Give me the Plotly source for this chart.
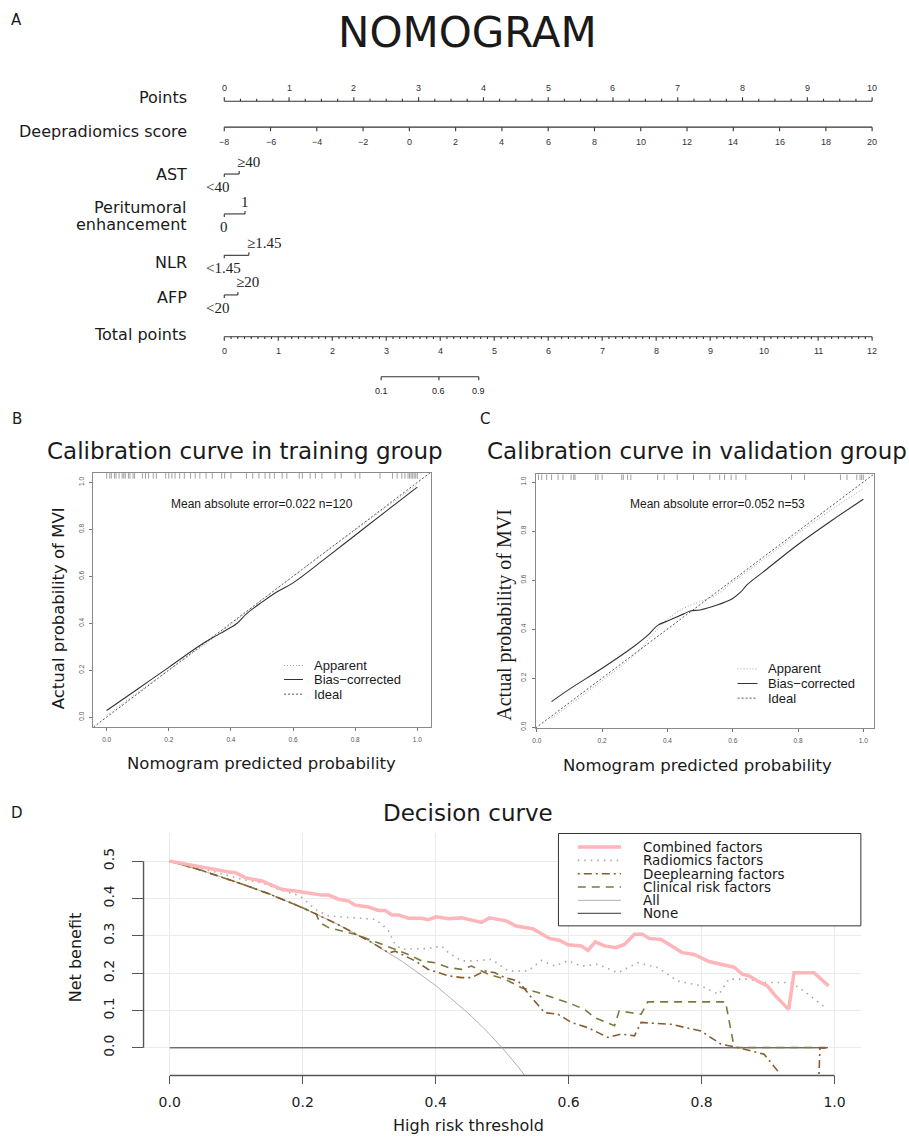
import math
import plotly.graph_objects as go

W, H = 909, 1137

# ---------------- Panel A: nomogram data ----------------
points_ticks = [0, 1, 2, 3, 4, 5, 6, 7, 8, 9, 10]
points_minor_step = 0.25
score_ticks = [-8, -6, -4, -2, 0, 2, 4, 6, 8, 10, 12, 14, 16, 18, 20]
total_ticks = [0, 1, 2, 3, 4, 5, 6, 7, 8, 9, 10, 11, 12]
total_minor_step = 0.125
prob_ticks = [0.1, 0.6, 0.9]
logit_slope = 2.43   # log-odds per total point
logit_mid = 3.81     # total points where probability = 0.5
cat_names = ["AST", "Peritumoral enhancement", "NLR", "AFP"]
cat_levels = [["<40", "≥40"], ["0", "1"], ["<1.45", "≥1.45"], ["<20", "≥20"]]
cat_points = [[0, 0.23], [0, 0.32], [0, 0.38], [0, 0.21]]

# ---------------- Panel B: calibration (training) ----------------
train_pred_bias = [0.0, 0.1, 0.2, 0.3, 0.35, 0.38, 0.42, 0.45, 0.5, 0.55, 0.6, 0.7, 0.8, 0.9, 1.0]
train_act_bias = [0.028, 0.12, 0.212, 0.305, 0.345, 0.367, 0.40, 0.44, 0.49, 0.535, 0.572, 0.672, 0.775, 0.878, 0.98]
train_pred_app = [0.0, 0.1, 0.2, 0.3, 0.4, 0.5, 0.6, 0.7, 0.8, 0.9, 1.0]
train_act_app = [0.008, 0.105, 0.2, 0.295, 0.395, 0.5, 0.6, 0.7, 0.797, 0.895, 0.99]
train_rug = [0.0, 0.01, 0.015, 0.025, 0.03, 0.04, 0.05, 0.055, 0.06, 0.07, 0.075, 0.085, 0.09,
             0.115, 0.125, 0.135, 0.15, 0.16, 0.19, 0.2, 0.21, 0.22, 0.235, 0.25, 0.27, 0.285,
             0.3, 0.32, 0.34, 0.37, 0.38, 0.4, 0.45, 0.47, 0.49, 0.51, 0.525, 0.54, 0.565, 0.58,
             0.62, 0.63, 0.655, 0.672, 0.693, 0.735, 0.755, 0.8, 0.815, 0.88, 0.92, 0.935, 0.95,
             0.96, 0.97, 0.975, 0.98, 0.985, 0.99, 0.995, 1.0]
train_mae_text = "Mean absolute error=0.022 n=120"

# ---------------- Panel C: calibration (validation) ----------------
val_pred_bias = [0.045, 0.1, 0.2, 0.3, 0.34, 0.37, 0.4, 0.45, 0.47, 0.5, 0.55, 0.6, 0.625, 0.645, 0.7, 0.8, 0.9, 1.0]
val_act_bias = [0.104, 0.155, 0.24, 0.332, 0.375, 0.415, 0.433, 0.462, 0.474, 0.478, 0.497, 0.525, 0.552, 0.582, 0.64, 0.745, 0.84, 0.93]
val_pred_app = [0.045, 0.1, 0.2, 0.3, 0.35, 0.4, 0.45, 0.5, 0.55, 0.6, 0.7, 0.8, 0.9, 1.0]
val_act_app = [0.037, 0.09, 0.19, 0.295, 0.37, 0.44, 0.485, 0.512, 0.54, 0.592, 0.69, 0.79, 0.885, 0.973]
val_rug = [0.005, 0.015, 0.03, 0.045, 0.065, 0.08, 0.105, 0.113, 0.117, 0.18, 0.187, 0.2,
           0.26, 0.265, 0.278, 0.288, 0.37, 0.39, 0.43, 0.48, 0.53, 0.56, 0.575, 0.595, 0.61,
           0.64, 0.78, 0.82, 0.93, 0.95, 0.98, 0.99, 0.995, 1.0]
val_mae_text = "Mean absolute error=0.052 n=53"

# ---------------- Panel D: decision curve ----------------
thr_combined = [0, 0.039, 0.069, 0.089, 0.099, 0.114, 0.139, 0.159, 0.169, 0.189, 0.209, 0.229, 0.239,
                0.254, 0.269, 0.279, 0.299, 0.314, 0.324, 0.334, 0.344, 0.359, 0.379, 0.389, 0.401,
                0.419, 0.439, 0.454, 0.469, 0.481, 0.506, 0.521, 0.546, 0.571, 0.586, 0.599, 0.619,
                0.629, 0.640, 0.654, 0.671, 0.684, 0.699, 0.711, 0.721, 0.739, 0.754, 0.771, 0.789,
                0.811, 0.829, 0.849, 0.861, 0.871, 0.884, 0.899, 0.911, 0.931, 0.939, 0.969, 0.991]
nb_combined = [0.5, 0.487, 0.476, 0.471, 0.469, 0.455, 0.447, 0.433, 0.424, 0.420, 0.415, 0.409, 0.409,
               0.398, 0.393, 0.382, 0.377, 0.368, 0.368, 0.356, 0.356, 0.347, 0.347, 0.343, 0.351,
               0.346, 0.348, 0.341, 0.336, 0.348, 0.340, 0.326, 0.319, 0.293, 0.288, 0.276, 0.273,
               0.261, 0.284, 0.273, 0.268, 0.277, 0.304, 0.304, 0.293, 0.290, 0.273, 0.255, 0.250,
               0.231, 0.224, 0.216, 0.197, 0.193, 0.179, 0.166, 0.139, 0.103, 0.201, 0.201, 0.166]
thr_radiomics = [0, 0.064, 0.109, 0.139, 0.164, 0.189, 0.199, 0.219, 0.239, 0.279, 0.309, 0.319, 0.329,
                 0.339, 0.349, 0.389, 0.409, 0.419, 0.439, 0.459, 0.484, 0.509, 0.539, 0.559, 0.579,
                 0.599, 0.619, 0.644, 0.674, 0.704, 0.734, 0.764, 0.799, 0.826, 0.841, 0.869, 0.894,
                 0.934, 0.954, 0.986]
nb_radiomics = [0.5, 0.473, 0.451, 0.442, 0.424, 0.411, 0.402, 0.371, 0.353, 0.348, 0.344, 0.331, 0.313,
                0.277, 0.264, 0.266, 0.273, 0.255, 0.233, 0.233, 0.237, 0.206, 0.206, 0.234, 0.219,
                0.233, 0.219, 0.224, 0.201, 0.228, 0.215, 0.179, 0.166, 0.143, 0.184, 0.184, 0.175,
                0.175, 0.152, 0.108]
thr_deep = [0, 0.05, 0.1, 0.15, 0.2, 0.25, 0.3, 0.33, 0.339, 0.369, 0.389, 0.419, 0.439, 0.454, 0.474,
            0.489, 0.504, 0.524, 0.544, 0.564, 0.584, 0.604, 0.629, 0.659, 0.679, 0.699, 0.709, 0.754,
            0.799, 0.829, 0.854, 0.894, 0.914, 0.93, 0.975, 0.978, 0.99]
nb_deep = [0.5, 0.474, 0.444, 0.412, 0.375, 0.333, 0.286, 0.254, 0.259, 0.233, 0.210, 0.193, 0.188, 0.188,
           0.206, 0.201, 0.188, 0.179, 0.135, 0.094, 0.090, 0.068, 0.054, 0.028, 0.037, 0.032, 0.068,
           0.063, 0.045, 0.010, 0.001, -0.017, -0.061, -0.15, -0.15, 0.0, 0.0]
thr_clinical = [0, 0.05, 0.1, 0.15, 0.2, 0.22, 0.226, 0.239, 0.259, 0.279, 0.299, 0.319, 0.339, 0.359,
                0.379, 0.399, 0.419, 0.439, 0.454, 0.479, 0.504, 0.529, 0.554, 0.599, 0.624, 0.639,
                0.669, 0.676, 0.694, 0.709, 0.719, 0.836, 0.849, 0.991]
nb_clinical = [0.5, 0.474, 0.444, 0.412, 0.375, 0.359, 0.335, 0.322, 0.313, 0.304, 0.291, 0.277, 0.264,
               0.250, 0.233, 0.228, 0.215, 0.210, 0.219, 0.197, 0.184, 0.161, 0.148, 0.121, 0.103,
               0.081, 0.059, 0.099, 0.094, 0.090, 0.123, 0.123, 0.001, 0.001]
thr_all = [0, 0.05, 0.1, 0.15, 0.2, 0.25, 0.3, 0.35, 0.4, 0.425, 0.45, 0.475, 0.5, 0.525, 0.55]
nb_all = [0.5, 0.474, 0.444, 0.412, 0.375, 0.333, 0.286, 0.231, 0.167, 0.130, 0.091, 0.048, 0.0, -0.053, -0.111]
thr_none = [0, 0.99]
nb_none = [0, 0]
dca_names = ["Combined factors", "Radiomics factors", "Deeplearning factors",
             "Clinical risk factors", "All", "None"]

# ====================================================================
fig = go.Figure()
annotations = []
shapes = []

def px(xp):
    return xp / W

def py(yp):
    return 1 - yp / H

def ann(text, x, y, size, family="DejaVu Sans", color="#1a1a1a", xanchor="center",
        yanchor="middle", xref="paper", yref="paper", textangle=0, xshift=0, yshift=0):
    annotations.append(dict(text=text, x=x, y=y, xref=xref, yref=yref, showarrow=False,
                            font=dict(size=size, family=family, color=color),
                            xanchor=xanchor, yanchor=yanchor, textangle=textangle,
                            xshift=xshift, yshift=yshift))

# ---------------- Panel A ----------------
PPX = 65.0           # pixels per point on the nomogram
X0PX = 222.0         # pixel of 0 points
ROW = dict(points=101.5, score=127.5, cats=[174.5, 214.5, 256.0, 295.7], total=337.7, prob=377.7)
LABEL_Y = dict(points=98, score=132, cats=[175, None, 263, 298], total=335)
max_pts = points_ticks[-1]

def score_to_pts(s):
    return (s - score_ticks[0]) / (score_ticks[-1] - score_ticks[0]) * max_pts

def total_to_pts(t):
    return t / total_ticks[-1] * max_pts

def prob_to_total(p):
    return logit_mid + math.log(p / (1 - p)) / logit_slope

segs = []
# Points scale
r = ROW["points"]
segs.append((points_ticks[0], r, points_ticks[-1], r))
n_minor = int(round(max_pts / points_minor_step))
for i in range(n_minor + 1):
    v = i * points_minor_step
    major = abs(v - round(v)) < 1e-9
    segs.append((v, r, v, r - (4 if major else 2.5)))
for v in points_ticks:
    ann(str(v), v, r - 13, 9, family="Liberation Sans", color="#333", xref="x", yref="y")
ann("Points", px(187), py(LABEL_Y["points"]), 16, xanchor="right")

# Deepradiomics score
r = ROW["score"]
segs.append((score_to_pts(score_ticks[0]), r, score_to_pts(score_ticks[-1]), r))
for s in score_ticks:
    segs.append((score_to_pts(s), r, score_to_pts(s), r + 4))
    ann(str(s).replace("-", "−"), score_to_pts(s), r + 14.5, 9, family="Liberation Sans",
        color="#333", xref="x", yref="y")
ann("Deepradiomics score", px(187), py(LABEL_Y["score"]), 16, xanchor="right")

# Categorical variables
for k, (name, levels, pts) in enumerate(zip(cat_names, cat_levels, cat_points)):
    r = ROW["cats"][k]
    segs.append((pts[0], r, pts[1], r))
    segs.append((pts[0], r, pts[0], r + 3))
    segs.append((pts[1], r, pts[1], r - 3))
    lo, hi = levels
    lo_txt = lo.replace("<", "&lt;")
    if lo.startswith("<"):
        ann(lo_txt, pts[0], r + 13, 15, family="Liberation Serif", color="#222",
            xref="x", yref="y", xanchor="left", xshift=-20)
    else:
        ann(lo_txt, pts[0], r + 13.5, 15, family="Liberation Serif", color="#222", xref="x", yref="y")
    if hi.startswith("≥"):
        ann(hi, pts[1], r - 12.5, 15, family="Liberation Serif", color="#222",
            xref="x", yref="y", xanchor="left", xshift=-4)
    else:
        ann(hi, pts[1], r - 11.5, 15, family="Liberation Serif", color="#222", xref="x", yref="y")
    if k == 1:
        parts = name.split(" ")
        ann(parts[0], px(187), py(208.3), 16, xanchor="right")
        ann(parts[1], px(187), py(225), 16, xanchor="right")
    else:
        ann(name, px(187), py(LABEL_Y["cats"][k]), 16, xanchor="right")

# Total points
r = ROW["total"]
segs.append((total_to_pts(total_ticks[0]), r, total_to_pts(total_ticks[-1]), r))
n_minor = int(round(total_ticks[-1] / total_minor_step))
for i in range(n_minor + 1):
    v = i * total_minor_step
    major = abs(v - round(v)) < 1e-9
    segs.append((total_to_pts(v), r, total_to_pts(v), r + (4 if major else 2.2)))
for t in total_ticks:
    ann(str(t), total_to_pts(t), r + 14.5, 9, family="Liberation Sans", color="#333", xref="x", yref="y")
ann("Total points", px(187), py(LABEL_Y["total"]), 16, xanchor="right")

# Probability scale
r = ROW["prob"]
ppos = [total_to_pts(prob_to_total(p)) for p in prob_ticks]
segs.append((ppos[0], r, ppos[-1], r))
for p, xp in zip(prob_ticks, ppos):
    segs.append((xp, r, xp, r + 3.5))
    ann(f"{p:.1f}", xp, r + 14, 9, family="Liberation Sans", color="#222", xref="x", yref="y")

xs, ys = [], []
for (a, b, c, d) in segs:
    xs += [a, c, None]
    ys += [b, d, None]
fig.add_trace(go.Scatter(x=xs, y=ys, mode="lines", line=dict(color="#333", width=1.1),
                         xaxis="x", yaxis="y", hoverinfo="skip", showlegend=False))

ann("NOMOGRAM", px(466.5), py(33), 42)
ann("A", px(14), py(20), 15)

# ---------------- Panels B & C ----------------
def calib_panel(xa, ya, pred_b, act_b, pred_a, act_a, rug, xr, yr):
    fig.add_trace(go.Scatter(x=[xr[0], xr[1]], y=[xr[0], xr[1]], mode="lines",
                             line=dict(color="#555", width=1, dash="2px,2px"),
                             xaxis=xa, yaxis=ya, hoverinfo="skip", showlegend=False))
    fig.add_trace(go.Scatter(x=pred_a, y=act_a, mode="lines", line_shape="spline",
                             line=dict(color="#9a9a9a", width=1, dash="1px,2px"),
                             xaxis=xa, yaxis=ya, hoverinfo="skip", showlegend=False))
    fig.add_trace(go.Scatter(x=pred_b, y=act_b, mode="lines", line_shape="spline",
                             line=dict(color="#333", width=1.1),
                             xaxis=xa, yaxis=ya, hoverinfo="skip", showlegend=False))
    for v in rug:
        shapes.append(dict(type="line", xref=xa, yref=ya + " domain", x0=v, x1=v, y0=1, y1=0.978,
                           line=dict(color="#888", width=0.8)))

calib_panel("x2", "y2", train_pred_bias, train_act_bias, train_pred_app, train_act_app,
            train_rug, [-0.0427, 1.0427], [-0.0425, 1.04])
calib_panel("x3", "y3", val_pred_bias, val_act_bias, val_pred_app, val_act_app,
            val_rug, [-0.004, 1.034], [-0.004, 1.031])

ann("B", px(14), py(420), 15)
ann("C", px(484), py(420), 15)
ann("Calibration curve in training group", px(242.5), py(452.5), 23)
ann("Calibration curve in validation group", px(696), py(452.5), 23)
ann(train_mae_text, px(260), py(505.5), 12, family="Liberation Sans")
ann(val_mae_text, px(716.7), py(505.5), 12, family="Liberation Sans")
ann("Nomogram predicted probability", px(259), py(766), 16.5)
ann("Nomogram predicted probability", px(697), py(767.5), 16.5)
ann("Actual probability of MVI", px(56), py(610), 16.5, textangle=-90)
ann("Actual probability of MVI", px(503), py(616), 20, family="Liberation Serif", textangle=-90)

calib_leg = [("Apparent", "#9a9a9a", "1px,2px"), ("Bias−corrected", "#333", "solid"), ("Ideal", "#555", "2px,2px")]
for (lx0, lx1, tx, ys0) in [(282, 301, 310, [667.3, 681.3, 696]), (737, 757, 766, [670.7, 685.3, 700])]:
    for (lab, col, dash), yy in zip(calib_leg, ys0):
        shapes.append(dict(type="line", xref="paper", yref="paper", x0=px(lx0), x1=px(lx1),
                           y0=py(yy), y1=py(yy), line=dict(color=col, width=1, dash=dash)))
        ann(lab, px(tx), py(yy), 13, family="Liberation Sans", xanchor="left")

# ---------------- Panel D ----------------
dca_series = [
    (thr_combined, nb_combined, dict(color="#FFB5B9", width=3.5)),
    (thr_radiomics, nb_radiomics, dict(color="#a8a8a8", width=1.6, dash="1.5px,5px")),
    (thr_deep, nb_deep, dict(color="#8A5A2C", width=1.6, dash="2px,4px,8px,4px")),
    (thr_clinical, nb_clinical, dict(color="#7A7A3E", width=1.6, dash="8px,6px")),
    (thr_all, nb_all, dict(color="#b0b0b0", width=1)),
    (thr_none, nb_none, dict(color="#333", width=1)),
]
for (tx_, ty_, ln) in reversed(dca_series):
    fig.add_trace(go.Scatter(x=tx_, y=ty_, mode="lines", line=ln, xaxis="x4", yaxis="y4",
                             hoverinfo="skip", showlegend=False))

shapes.append(dict(type="line", xref="x4", yref="y4 domain", x0=0, x1=1, y0=0, y1=0,
                   line=dict(color="#555", width=1.4)))
shapes.append(dict(type="line", xref="x4 domain", yref="y4", x0=0, x1=0, y0=0, y1=0.5,
                   line=dict(color="#555", width=1.4)))

ann("D", px(14), py(815), 15)
ann("Decision curve", px(466.5), py(815), 23)
ann("High risk threshold", px(467), py(1128), 16)
ann("Net benefit", px(73), py(960), 16, textangle=-90)

shapes.append(dict(type="rect", xref="paper", yref="paper", x0=px(557.3), x1=px(860.7),
                   y0=py(928.3), y1=py(835.7), fillcolor="white", line=dict(color="#333", width=1),
                   layer="above"))
leg_y = [849.3, 862.7, 876.0, 889.3, 902.7, 915.7]
for (name, (_, _, ln), yy) in zip(dca_names, dca_series, leg_y):
    shapes.append(dict(type="line", xref="paper", yref="paper", x0=px(576.7), x1=px(620),
                       y0=py(yy), y1=py(yy), layer="above",
                       line=dict(color=ln["color"], width=ln["width"], dash=ln.get("dash", "solid"))))
    ann(name, px(640), py(yy), 13.5, xanchor="left")

# ---------------- Layout ----------------
calib_tickfont = dict(family="Liberation Sans", size=6.5, color="#555")
def calib_axis(dom, rng, anchor, is_y):
    d = dict(domain=dom, range=rng, anchor=anchor, tickvals=[0, 0.2, 0.4, 0.6, 0.8, 1.0],
             ticktext=["0.0", "0.2", "0.4", "0.6", "0.8", "1.0"], ticks="outside", ticklen=3,
             tickcolor="#777", tickwidth=0.8, tickfont=calib_tickfont, showline=True, mirror=True,
             linecolor="#8a8a8a", linewidth=1, showgrid=False, zeroline=False)
    if is_y:
        d.update(tickangle=-90, ticklabelstandoff=3)
    else:
        d.update(ticklabelstandoff=3)
    return d

layout = dict(
    width=W, height=H, margin=dict(l=0, r=0, t=0, b=0),
    paper_bgcolor="white", plot_bgcolor="rgba(0,0,0,0)",
    xaxis=dict(domain=[0, 1], range=[-X0PX / PPX, (W - X0PX) / PPX], visible=False, anchor="y"),
    yaxis=dict(domain=[0, 1], range=[H, 0], visible=False, anchor="x"),
    xaxis2=calib_axis([px(90.7), px(429)], [-0.0427, 1.0427], "y2", False),
    yaxis2=calib_axis([py(729), py(474.3)], [-0.0425, 1.04], "x2", True),
    xaxis3=calib_axis([px(534.3), px(874.3)], [-0.004, 1.034], "y3", False),
    yaxis3=calib_axis([py(730), py(475.7)], [-0.004, 1.031], "x3", True),
    xaxis4=dict(domain=[px(141), px(861)], range=[-0.0394, 1.04], anchor="y4",
                tickvals=[0, 0.2, 0.4, 0.6, 0.8, 1.0], ticktext=["0.0", "0.2", "0.4", "0.6", "0.8", "1.0"],
                ticks="outside", ticklen=8, tickcolor="#555", tickwidth=1.3, showline=False,
                showgrid=True, gridcolor="#EBEBEB", gridwidth=1, zeroline=False,
                tickfont=dict(family="DejaVu Sans", size=14, color="#222"), ticklabelstandoff=6),
    yaxis4=dict(domain=[py(1078.3), py(835.7)], range=[-0.074, 0.574], anchor="x4",
                tickvals=[0, 0.1, 0.2, 0.3, 0.4, 0.5], ticktext=["0.0", "0.1", "0.2", "0.3", "0.4", "0.5"],
                ticks="outside", ticklen=11, tickcolor="#555", tickwidth=1.3, showline=False,
                showgrid=True, gridcolor="#EBEBEB", gridwidth=1, zeroline=False, tickangle=-90,
                tickfont=dict(family="DejaVu Sans", size=14, color="#222"), ticklabelstandoff=12),
    annotations=annotations, shapes=shapes, showlegend=False,
)
fig.update_layout(**layout)
fig.write_html("out.html", config={"displayModeBar": False},
               post_script="document.body.style.margin='0';document.body.style.overflow='hidden';")
